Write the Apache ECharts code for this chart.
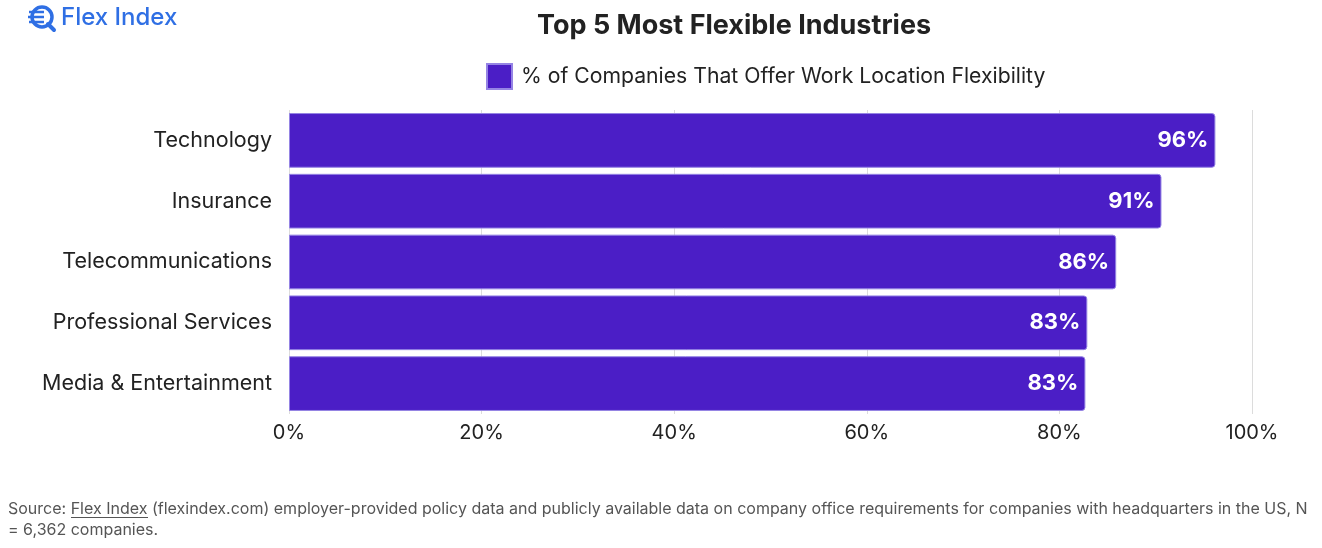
<!DOCTYPE html>
<html>
<head>
<meta charset="utf-8">
<style>html,body{margin:0;padding:0;background:#fff;}#c{width:1322px;height:548px;}</style>
<script src="https://cdn.jsdelivr.net/npm/echarts@6/dist/echarts.min.js"></script>
</head>
<body>
<div id="c"></div>
<script>
const categories = ['Technology', 'Insurance', 'Telecommunications', 'Professional Services', 'Media & Entertainment'];
const values = [96.2, 90.6, 85.9, 82.9, 82.7];
const labels = ['96%', '91%', '86%', '83%', '83%'];
const xTicks = [0, 20, 40, 60, 80, 100];
const seriesName = '% of Companies That Offer Work Location Flexibility';

const chart = echarts.init(document.getElementById('c'));
const blue = '#2F6FE4';
chart.setOption({
  animation: false,
  textStyle: { fontFamily: 'Inter' },
  title: {
    text: 'Top 5 Most Flexible Industries',
    left: 532, top: 7,
    textStyle: { fontFamily: 'Inter', fontSize: 27, fontWeight: 'bold', color: '#222' }
  },
  legend: {
    data: [seriesName],
    left: 486, top: 63, padding: 0,
    itemWidth: 25, itemHeight: 25, itemGap: 10,
    icon: 'rect',
    textStyle: { fontFamily: 'Inter', fontSize: 21.2, color: '#222', padding: [0, 0, 0, 4] }
  },
  grid: { left: 289, right: 70, top: 110, bottom: 134, containLabel: false },
  xAxis: {
    type: 'value', min: 0, max: 100, interval: 20,
    axisLine: { show: false }, axisTick: { show: false },
    splitLine: { show: true, lineStyle: { color: '#dcdcdc', width: 1 } },
    axisLabel: {
      fontFamily: 'Inter', fontSize: 20, color: '#222', margin: 9,
      formatter: v => xTicks.includes(v) ? v + '%' : ''
    }
  },
  yAxis: {
    type: 'category', data: categories, inverse: true,
    axisLine: { show: false }, axisTick: { show: false },
    axisLabel: { fontFamily: 'Inter', fontSize: 21.5, color: '#222', margin: 17 }
  },
  series: [{
    name: seriesName,
    type: 'bar',
    data: values,
    barCategoryGap: '10%',
    itemStyle: { color: '#4B1EC6', borderColor: '#9584E4', borderWidth: 1, borderRadius: [0, 3, 3, 0] },
    label: {
      show: true, position: 'insideRight', distance: 7,
      formatter: p => labels[p.dataIndex],
      fontFamily: 'Inter', fontSize: 22, fontWeight: 'bold', color: '#fff'
    }
  }],
  graphic: [
    { type: 'circle', shape: { cx: 42, cy: 17, r: 10 }, style: { fill: 'none', stroke: blue, lineWidth: 3.5 } },
    { type: 'line', shape: { x1: 48, y1: 24, x2: 54, y2: 30 }, style: { stroke: blue, lineWidth: 4, lineCap: 'round' } },
    { type: 'line', shape: { x1: 29, y1: 12, x2: 44, y2: 12 }, style: { stroke: blue, lineWidth: 2.5 } },
    { type: 'line', shape: { x1: 28, y1: 17, x2: 44, y2: 17 }, style: { stroke: blue, lineWidth: 2.5 } },
    { type: 'line', shape: { x1: 29, y1: 22, x2: 44, y2: 22 }, style: { stroke: blue, lineWidth: 2.5 } },
    { type: 'text', left: 61, top: 6, style: { text: 'Flex Index', fontFamily: 'Inter', fontSize: 24, fontWeight: 500, fill: blue } },
    { type: 'text', left: 8, top: 499, style: {
      text: 'Source: Flex Index (flexindex.com) employer-provided policy data and publicly available data on company office requirements for companies with headquarters in the US, N\n= 6,362 companies.',
      fontFamily: 'Inter', fontSize: 16, lineHeight: 21, fill: '#555' } },
    { type: 'line', shape: { x1: 71, y1: 517.5, x2: 148, y2: 517.5 }, style: { stroke: '#555', lineWidth: 1 } }
  ]
});
</script>
</body>
</html>
